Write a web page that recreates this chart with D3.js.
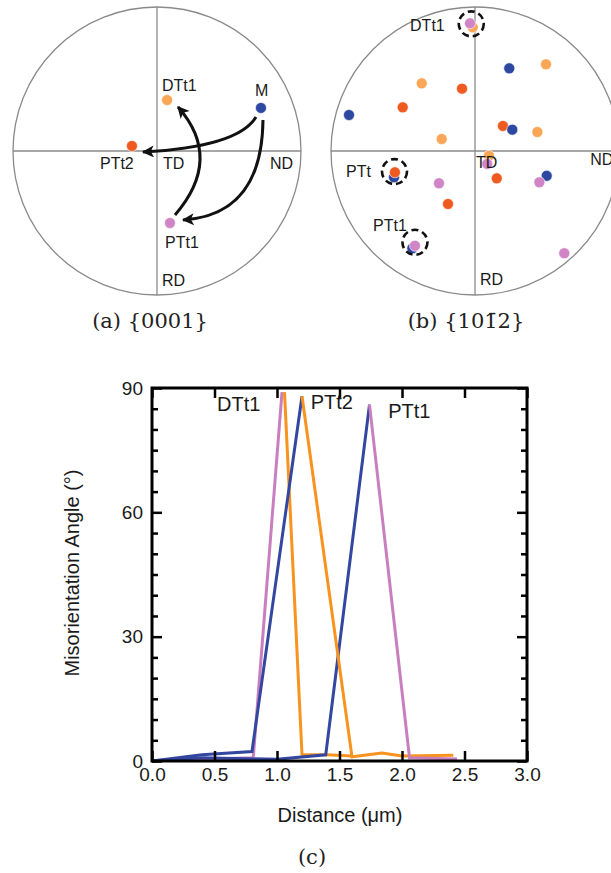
<!DOCTYPE html>
<html><head><meta charset="utf-8">
<script src="https://cdn.jsdelivr.net/npm/d3@7"></script>
<style>
body{margin:0;background:#fff;}
svg text{font-family:"Liberation Sans",Arial,sans-serif;fill:#1a1a1a;}
.cap{font-family:"DejaVu Serif",serif;font-size:21px;fill:#222;}
</style></head>
<body>
<svg id="fig" width="611" height="873"></svg>
<script>
// ---------- Data ----------
// Pole figure (a) {0001}: points in unit-circle coordinates (u right, v up)
const poleA_names = ["DTt1", "M", "PTt2", "PTt1"];
const poleA_u = [0.07, 0.722, -0.174, 0.09];
const poleA_v = [0.354, 0.299, 0.035, -0.5];
const poleA_color = ["lightorange", "blue", "red", "pink"];

// Pole figure (b) {10-12}
const poleB_u = [-0.016, -0.035, 0.238, 0.493, -0.370, -0.090, -0.502, -0.875, 0.194, 0.259, 0.433, -0.231, 0.097, 0.085, -0.5625, -0.556, 0.498, 0.447, 0.151, -0.25, -0.1875, -0.435, -0.417, 0.620];
const poleB_v = [0.859, 0.887, 0.574, 0.602, 0.470, 0.433, 0.303, 0.25, 0.174, 0.148, 0.132, 0.083, -0.033, -0.090, -0.183, -0.148, -0.172, -0.217, -0.190, -0.224, -0.368, -0.676, -0.658, -0.710];
const poleB_color = ["lightorange", "pink", "blue", "lightorange", "lightorange", "red", "red", "blue", "red", "blue", "lightorange", "lightorange", "lightorange", "pink", "blue", "red", "blue", "pink", "red", "pink", "red", "blue", "pink", "pink"];
// circled groups in (b)
const circB_u = [-0.026, -0.559, -0.417];
const circB_v = [0.883, -0.143, -0.634];

// Misorientation profiles (c): distance (µm) and angle (°)
const blueA_x = [0, 0.4, 0.8, 1.2];
const blueA_y = [0, 1.5, 2.3, 88];
const pinkA_x = [0, 0.4, 0.81, 1.04];
const pinkA_y = [0, 0.4, 0.8, 89];
const orangeB_x = [1.06, 1.2, 1.4, 1.6];
const orangeB_y = [89, 1.5, 1.5, 1.2];
const blueB_x = [0, 0.4, 1.0, 1.39, 1.74];
const blueB_y = [0, 0.8, 0.4, 1.5, 86];
const orangeA_x = [1.2, 1.6, 1.84, 2.0, 2.41];
const orangeA_y = [88, 1.0, 1.9, 1.2, 1.4];
const pinkB_x = [1.74, 2.06, 2.44];
const pinkB_y = [86, 0.8, 0.5];

const xTicks = [0, 0.5, 1.0, 1.5, 2.0, 2.5, 3.0];
const yTicks = [0, 30, 60, 90];
const yMinor = [5,10,15,20,25,35,40,45,50,55,65,70,75,80,85];

const markerColors = {blue:"#2d48a0", red:"#ee5a1f", lightorange:"#f9a757", pink:"#d086c6"};
const lineColors = {blue:"#3447a0", orange:"#f7931e", pink:"#c87fc0"};

// ---------- Drawing ----------
const svg = d3.select("#fig");
svg.append("defs").append("marker")
  .attr("id","ah").attr("viewBox","0 0 10 10").attr("refX",9).attr("refY",5)
  .attr("markerUnits","userSpaceOnUse").attr("markerWidth",13).attr("markerHeight",12)
  .attr("orient","auto")
  .append("path").attr("d","M0,0 L10,5 L0,10 L2.5,5 Z").attr("fill","#111");

function poleFigure(cx, cy, r){
  const g = svg.append("g");
  const su = d3.scaleLinear().domain([-1,1]).range([cx-r, cx+r]);
  const sv = d3.scaleLinear().domain([-1,1]).range([cy+r, cy-r]);
  g.append("circle").attr("cx",su(0)).attr("cy",sv(0)).attr("r",r)
    .attr("fill","none").attr("stroke","#8a8a8a").attr("stroke-width",1.3);
  g.append("line").attr("x1",su(-1)).attr("x2",su(1)).attr("y1",sv(0)).attr("y2",sv(0))
    .attr("stroke","#8a8a8a").attr("stroke-width",1.3);
  g.append("line").attr("x1",su(0)).attr("x2",su(0)).attr("y1",sv(-1)).attr("y2",sv(1))
    .attr("stroke","#8a8a8a").attr("stroke-width",1.3);
  return {g, su, sv};
}

// (a)
const A = poleFigure(157, 151, 144);
const ptsA = poleA_names.map((n,i)=>({n, u:poleA_u[i], v:poleA_v[i], c:poleA_color[i]}));
// arrows: start, control, end in unit coords
const arrowsA = [
  [[0.6875,0.236],[0.5625,0.028],[-0.097,-0.007]],
  [[0.736,0.215],[0.729,-0.444],[0.181,-0.479]],
  [[0.125,-0.444],[0.462,-0.052],[0.146,0.306]]
];
A.g.selectAll("path.arr").data(arrowsA).join("path").attr("class","arr")
  .attr("d", d=>{const p=d3.path(); p.moveTo(A.su(d[0][0]),A.sv(d[0][1]));
     p.quadraticCurveTo(A.su(d[1][0]),A.sv(d[1][1]),A.su(d[2][0]),A.sv(d[2][1])); return p.toString();})
  .attr("fill","none").attr("stroke","#111").attr("stroke-width",3).attr("marker-end","url(#ah)");
A.g.selectAll("circle.pt").data(ptsA).join("circle").attr("class","pt")
  .attr("cx",d=>A.su(d.u)).attr("cy",d=>A.sv(d.v)).attr("r",5.5)
  .attr("fill",d=>markerColors[d.c]).attr("stroke","#fff").attr("stroke-width",0.6);
const labA = [["DTt1",0.035,0.415],["M",0.681,0.382],["PTt2",-0.396,-0.125],["TD",0.042,-0.125],["ND",0.785,-0.125],["PTt1",0.056,-0.673],["RD",0.035,-0.937]];
A.g.selectAll("text").data(labA).join("text").attr("x",d=>A.su(d[1])).attr("y",d=>A.sv(d[2]))
  .attr("font-size",16).text(d=>d[0]);

// (b)
const B = poleFigure(475, 151, 144);
const ptsB = poleB_u.map((u,i)=>({u, v:poleB_v[i], c:poleB_color[i]}));
B.g.selectAll("circle.pt").data(ptsB).join("circle").attr("class","pt")
  .attr("cx",d=>B.su(d.u)).attr("cy",d=>B.sv(d.v)).attr("r",5.5)
  .attr("fill",d=>markerColors[d.c]).attr("stroke","#fff").attr("stroke-width",0.6);
B.g.selectAll("circle.ring").data(circB_u.map((u,i)=>({u,v:circB_v[i]}))).join("circle").attr("class","ring")
  .attr("cx",d=>B.su(d.u)).attr("cy",d=>B.sv(d.v)).attr("r",12.5)
  .attr("fill","none").attr("stroke","#111").attr("stroke-width",2.6).attr("stroke-dasharray","7,4");
const labB = [["DTt1",-0.451,0.833],["PTt",-0.896,-0.180],["PTt1",-0.708,-0.556],["TD",0.007,-0.118],["ND",0.80,-0.097],["RD",0.035,-0.931]];
B.g.selectAll("text").data(labB).join("text").attr("x",d=>B.su(d[1])).attr("y",d=>B.sv(d[2]))
  .attr("font-size",16).text(d=>d[0]);

// captions
svg.append("text").attr("class","cap").attr("x",150).attr("y",328).attr("text-anchor","middle").text("(a) {0001}");
svg.append("text").attr("class","cap").attr("x",466).attr("y",328).attr("text-anchor","middle").text("(b) {101\u03042}");
svg.append("text").attr("class","cap").attr("x",312).attr("y",864).attr("text-anchor","middle").text("(c)");

// (c) line chart
const x = d3.scaleLinear().domain([0,3]).range([152,527]);
const y = d3.scaleLinear().domain([0,90]).range([761,388]);
const c = svg.append("g");
const series = [
  {xs:pinkA_x, ys:pinkA_y, col:"pink"},
  {xs:orangeB_x, ys:orangeB_y, col:"orange"},
  {xs:blueA_x, ys:blueA_y, col:"blue"},
  {xs:blueB_x, ys:blueB_y, col:"blue"},
  {xs:orangeA_x, ys:orangeA_y, col:"orange"},
  {xs:pinkB_x, ys:pinkB_y, col:"pink"}
];
const line = d3.line().x(d=>x(d[0])).y(d=>y(d[1]));
c.selectAll("path.s").data(series).join("path").attr("class","s")
  .attr("d",d=>line(d.xs.map((v,i)=>[v,d.ys[i]])))
  .attr("fill","none").attr("stroke",d=>lineColors[d.col]).attr("stroke-width",3)
  .attr("stroke-linejoin","miter");

function styleAxis(g){ g.selectAll(".domain").remove(); g.selectAll("line").attr("stroke","#000").attr("stroke-width",2.5);
  g.selectAll("text").attr("font-size",19).attr("fill","#1a1a1a").attr("font-family","'Liberation Sans',Arial,sans-serif"); }
c.append("g").attr("transform","translate(0,761)").call(d3.axisBottom(x).tickValues(xTicks).tickFormat(d3.format(".1f")).tickSize(-10).tickPadding(7)).call(styleAxis);
c.append("g").attr("transform","translate(0,388)").call(d3.axisTop(x).tickValues(xTicks).tickFormat("").tickSize(-10)).call(styleAxis);
c.append("g").attr("transform","translate(152,0)").call(d3.axisLeft(y).tickValues(yTicks).tickFormat(d3.format("d")).tickSize(-10).tickPadding(9)).call(styleAxis);
c.append("g").attr("transform","translate(152,0)").call(d3.axisLeft(y).tickValues(yMinor).tickFormat("").tickSize(-6)).call(styleAxis);
c.append("g").attr("transform","translate(527,0)").call(d3.axisRight(y).tickValues(yTicks).tickFormat("").tickSize(-10)).call(styleAxis);
c.append("g").attr("transform","translate(527,0)").call(d3.axisRight(y).tickValues(yMinor).tickFormat("").tickSize(-6)).call(styleAxis);
c.append("rect").attr("x",152).attr("y",388).attr("width",375).attr("height",373)
  .attr("fill","none").attr("stroke","#000").attr("stroke-width",3);

// peak labels
const peakLabels = ["DTt1","PTt2","PTt1"];
const peakLabelX = [0.52, 1.27, 1.89];
const peakLabelY = [84.5, 84.9, 82.7];
c.selectAll("text.pk").data(peakLabels).join("text").attr("class","pk")
  .attr("x",(d,i)=>x(peakLabelX[i])).attr("y",(d,i)=>y(peakLabelY[i])).attr("font-size",20).text(d=>d);

// axis titles
c.append("text").attr("x",340).attr("y",822).attr("text-anchor","middle").attr("font-size",20).text("Distance (\u03bcm)");
c.append("text").attr("transform","translate(79,573) rotate(-90)").attr("text-anchor","middle").attr("font-size",20).text("Misorientation Angle (\u00b0)");
</script>
</body></html>
